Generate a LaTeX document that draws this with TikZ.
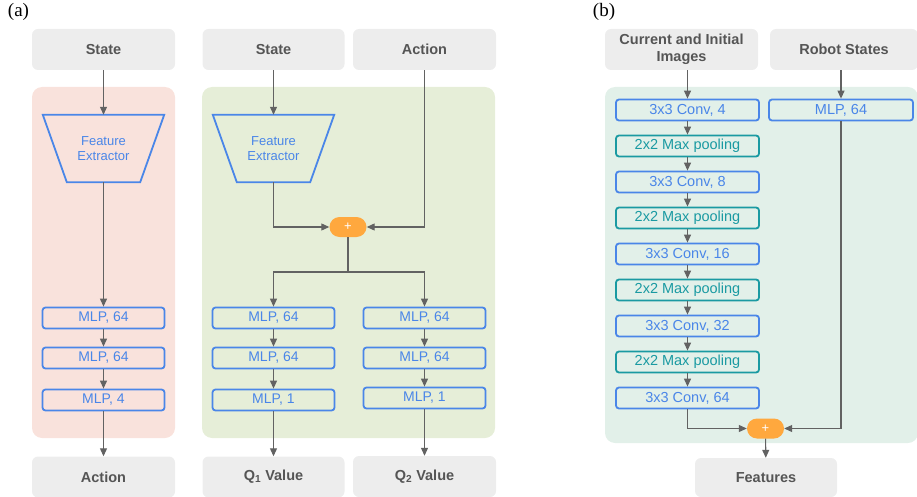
\documentclass[tikz,border=0pt]{standalone}
\usepackage{fontspec}
\setmainfont{Liberation Sans}
\newfontfamily\panelfont{Liberation Serif}
\usetikzlibrary{arrows.meta}
\definecolor{boxgray}{HTML}{EDEDED}
\definecolor{textgray}{HTML}{555555}
\definecolor{linegray}{HTML}{626262}
\definecolor{netblue}{HTML}{4A86E8}
\definecolor{poolteal}{HTML}{1A9AA2}
\definecolor{plusorange}{HTML}{FFA83E}
\definecolor{actorpink}{HTML}{F9E2DC}
\definecolor{criticgreen}{HTML}{E6EED8}
\definecolor{encodermint}{HTML}{E2F0E9}

\begin{document}
\begin{tikzpicture}
  [x=1pt,y=-1pt,every node/.style={inner sep=0pt,align=center},
   graybox/.style={fill=boxgray,rounded corners=6pt,minimum width=143pt,minimum height=41pt,
     text=textgray,font=\fontsize{14.5}{17}\selectfont\bfseries},
   mlp/.style={draw=netblue,line width=1.8pt,rounded corners=3pt,minimum width=122pt,
     minimum height=21pt,text=netblue,font=\fontsize{14}{15}\selectfont},
   conv/.style={mlp,minimum width=143pt,font=\fontsize{14.5}{15}\selectfont},
   pool/.style={conv,draw=poolteal,text=poolteal},
   extractor/.style={minimum width=121pt,minimum height=67pt,
     text=netblue,font=\fontsize{13}{15.5}\selectfont},
   plus/.style={fill=plusorange,rounded corners=10pt,minimum width=37pt,minimum height=20pt,
     text=white,font=\fontsize{13}{13}\selectfont},
   panel/.style={rounded corners=10pt},
   arr/.style={draw=linegray,line width=1.1pt,-{Triangle[length=8pt,width=7pt]}}]
  \useasboundingbox (0,0) rectangle (917,497);

  % backgrounds
  \fill[panel,actorpink] (32,87) rectangle (175,438);
  \fill[panel,criticgreen] (202,87) rectangle (495,438);
  \fill[panel,encodermint] (605,87) rectangle (918,443);

  \node[font=\panelfont\fontsize{19}{20}\selectfont] (la) at (18.5,12) {(a)};
  \node[font=\panelfont\fontsize{19}{20}\selectfont] (lb) at (604,12) {(b)};

  % actor
  \node[graybox] (sa) at (103.5,49.5) {State};
  \node[extractor] (fa) at (103.5,148.5) {Feature\\Extractor};
  \node[mlp] (a1) at (103.5,318) {MLP, 64};
  \node[mlp] (a2) at (103.5,358) {MLP, 64};
  \node[mlp] (a3) at (103.5,400) {MLP, 4};
  \node[graybox] (aa) at (103.5,477) {Action};

  % critic
  \node[graybox,minimum width=142pt] (sb) at (273.5,49.5) {State};
  \node[graybox] (ab) at (424.5,49.5) {Action};
  \node[extractor] (fb) at (273.5,148.5) {Feature\\Extractor};
  \node[plus] (pb) at (348,227) {+};
  \coordinate (sp) at (348,272);
  \node[mlp] (b1) at (273.5,318) {MLP, 64};
  \node[mlp] (b2) at (273.5,358) {MLP, 64};
  \node[mlp] (b3) at (273.5,400) {MLP, 1};
  \node[mlp] (c1) at (424.5,318) {MLP, 64};
  \node[mlp] (c2) at (424.5,358) {MLP, 64};
  \node[mlp] (c3) at (424.5,398) {MLP, 1};
  \node[graybox,minimum width=142pt] (q1) at (273.5,477) {Q\textsubscript{1} Value};
  \node[graybox] (q2) at (424.5,476.5) {Q\textsubscript{2} Value};

  % trapezoids round the extractors
  \foreach \f in {fa,fb}
    \draw[netblue,line width=1.8pt] (\f.north west) -- (\f.north east)
      -- ([xshift=-24pt]\f.south east) -- ([xshift=24pt]\f.south west) -- cycle;

  % encoder
  \node[graybox,minimum width=153pt] (im) at (681.5,49.5) {Current and Initial\\Images};
  \node[graybox,minimum width=148pt] (rs) at (844,49.5) {Robot States};
  \node[conv] (e1) at (687.5,110) {3x3 Conv, 4};
  \node[pool] (e2) at (687.5,146) {2x2 Max pooling};
  \node[conv] (e3) at (687.5,182) {3x3 Conv, 8};
  \node[pool] (e4) at (687.5,218) {2x2 Max pooling};
  \node[conv] (e5) at (687.5,254) {3x3 Conv, 16};
  \node[pool] (e6) at (687.5,290) {2x2 Max pooling};
  \node[conv] (e7) at (687.5,326) {3x3 Conv, 32};
  \node[pool] (e8) at (687.5,362) {2x2 Max pooling};
  \node[conv] (e9) at (687.5,398) {3x3 Conv, 64};
  \node[conv,minimum width=144pt] (m) at (841,110) {MLP, 64};
  \node[plus] (pc) at (765.5,428.5) {+};
  \node[graybox,minimum width=142pt,minimum height=39pt] (ft) at (766,477.5) {Features};

  \foreach \from/\to in {sa/fa, fa/a1, a1/a2, a2/a3, a3/aa, b1/b2, b2/b3, b3/q1,
      c1/c2, c2/c3, c3/q2, e1/e2, e2/e3, e3/e4, e4/e5, e5/e6, e6/e7, e7/e8, e8/e9, pc/ft}
    \draw[arr] (\from) -- (\to);

  \draw[arr] (sb.south -| fb) -- (fb);
  \draw[arr] (fb) |- (pb);
  \draw[arr] (ab) |- (pb);
  \draw[draw=linegray,line width=1.1pt] (pb) -- (sp);
  \draw[arr] (sp) -| (b1);
  \draw[arr] (sp) -| (c1);

  \draw[arr] (im.south -| e1) -- (e1);
  \draw[arr] (rs.south -| m) -- (m);
  \draw[arr] (e9) |- (pc);
  \draw[arr] (m) |- (pc);
\end{tikzpicture}
\end{document}
